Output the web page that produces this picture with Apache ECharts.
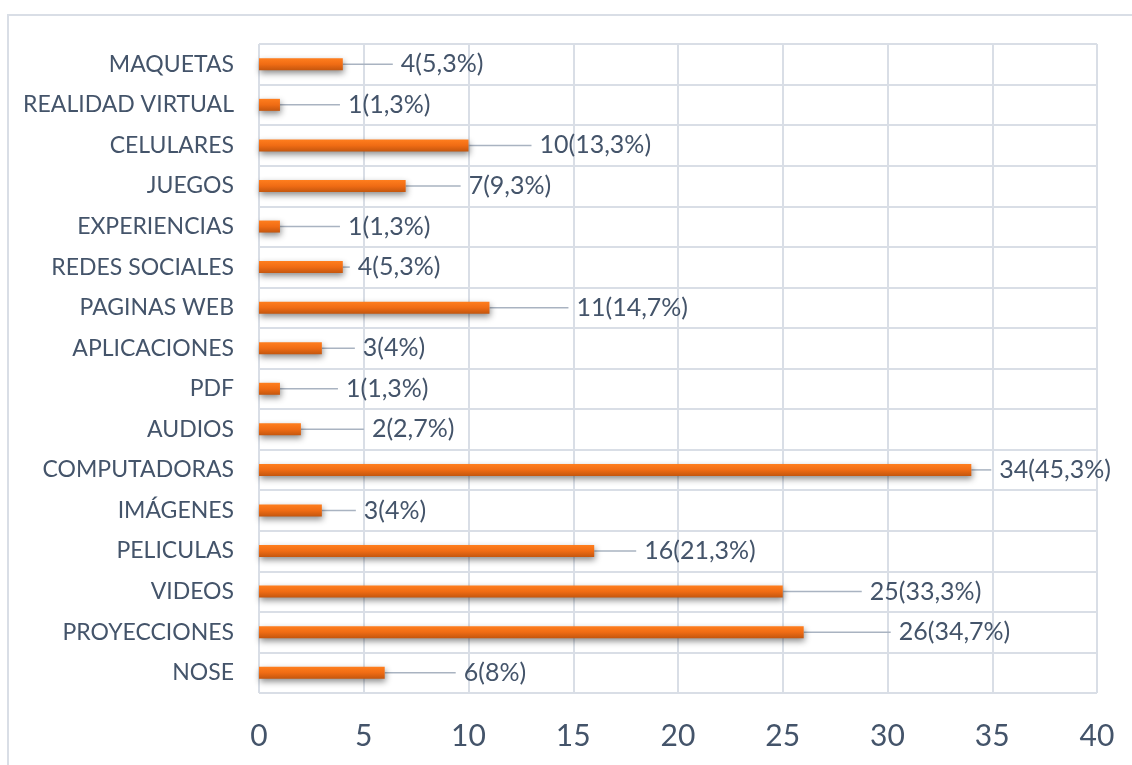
<!DOCTYPE html>
<html>
<head>
<meta charset="utf-8">
<script src="https://cdn.jsdelivr.net/npm/echarts@6/dist/echarts.min.js"></script>
<style>
html,body{margin:0;padding:0;background:#fff;}
#chart{width:1132px;height:765px;}
</style>
</head>
<body>
<div id="chart"></div>
<script>
// Categories listed top to bottom
const categories = ["MAQUETAS","REALIDAD VIRTUAL","CELULARES","JUEGOS","EXPERIENCIAS","REDES SOCIALES","PAGINAS WEB","APLICACIONES","PDF","AUDIOS","COMPUTADORAS","IMÁGENES","PELICULAS","VIDEOS","PROYECCIONES","NOSE"];
const values = [4,1,10,7,1,4,11,3,1,2,34,3,16,25,26,6];
const percentLabels = ["5,3%","1,3%","13,3%","9,3%","1,3%","5,3%","14,7%","4%","1,3%","2,7%","45,3%","4%","21,3%","33,3%","34,7%","8%"];
const xTicks = [0,5,10,15,20,25,30,35,40];
// horizontal label offset from bar end (px)
const labelOffsets = [58,68,71,63,68,15,87,41,66,71,28,42,50,87,95,79];

const chart = echarts.init(document.getElementById('chart'));
const textColor = '#44546A';
const gridColor = '#D9DEE6';
const font = 'Lato, "Open Sans", sans-serif';

chart.setOption({
  animation: false,
  graphic: [{
    type: 'rect',
    shape: {x: 8, y: 15, width: 1160, height: 800},
    style: {fill: 'none', stroke: gridColor, lineWidth: 2},
    silent: true
  }],
  grid: {left: 259, right: 35, top: 44, bottom: 72, containLabel: false},
  xAxis: {
    type: 'value', min: 0, max: 40, interval: 5,
    axisLine: {show: false}, axisTick: {show: false},
    splitLine: {show: true, lineStyle: {color: gridColor, width: 2}},
    axisLabel: {color: textColor, fontSize: 30, fontFamily: font, margin: 28,
      formatter: v => String(v)}
  },
  yAxis: {
    type: 'category', data: categories, inverse: true,
    axisLine: {show: false}, axisTick: {show: false},
    splitLine: {show: true, lineStyle: {color: gridColor, width: 2}},
    axisLabel: {color: textColor, fontSize: 23, fontFamily: font, margin: 25}
  },
  series: [{
    type: 'bar',
    data: values,
    barWidth: 12,
    itemStyle: {
      color: new echarts.graphic.LinearGradient(0,0,0,1,[
        {offset: 0, color: '#FF7E1E'},
        {offset: 0.5, color: '#F06C14'},
        {offset: 1, color: '#C4560E'}
      ]),
      shadowColor: 'rgba(0,0,0,0.45)', shadowBlur: 6, shadowOffsetY: 3, shadowOffsetX: 1
    },
    label: {
      show: true, position: 'right', distance: 5,
      color: textColor, fontSize: 25, fontFamily: font,
      formatter: p => '{s|}' + p.value + '(' + percentLabels[p.dataIndex] + ')',
      rich: {s: {width: 8}}
    },
    labelLayout: p => ({dx: labelOffsets[p.dataIndex] - 13}),
    labelLine: {show: true, lineStyle: {color: '#A9B3C1', width: 1.5}}
  }]
});
</script>
</body>
</html>
